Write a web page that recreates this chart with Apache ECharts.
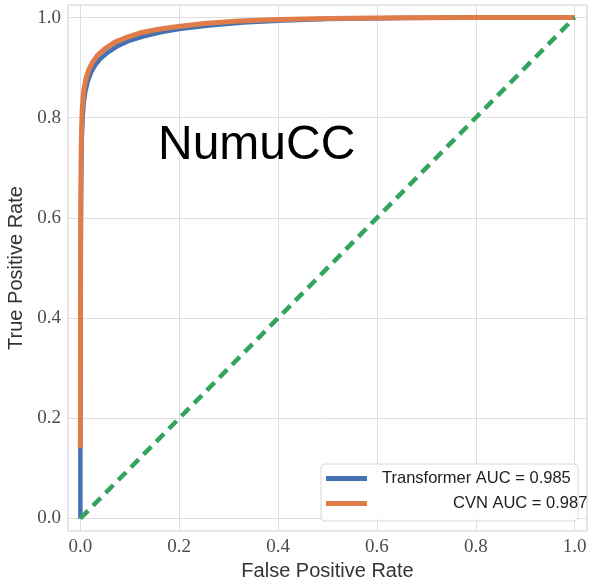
<!DOCTYPE html>
<html>
<head>
<meta charset="utf-8">
<script src="https://cdn.jsdelivr.net/npm/echarts@6/dist/echarts.min.js"></script>
<style>
  html, body { margin: 0; padding: 0; background: #fff; }
  #main { width: 590px; height: 582px; }
</style>
</head>
<body>
<div id="main"></div>
<script>
// ROC data: [false positive rate, true positive rate]
const transformerRoc = [
  [0, 0], [0, 0.14], [0.0004, 0.38], [0.0008, 0.53], [0.0013, 0.63], [0.002, 0.70],
  [0.003, 0.76], [0.005, 0.805], [0.007, 0.832], [0.01, 0.852], [0.015, 0.873],
  [0.022, 0.891], [0.03, 0.905], [0.04, 0.917], [0.055, 0.93], [0.075, 0.943],
  [0.1, 0.954], [0.13, 0.963], [0.165, 0.971], [0.2, 0.977], [0.26, 0.984],
  [0.33, 0.99], [0.41, 0.994], [0.5, 0.997], [0.65, 0.999], [0.8, 1.0], [1, 1]
];
const cvnRoc = [
  [0, 0.14], [0.0003, 0.40], [0.0006, 0.55], [0.001, 0.65], [0.0015, 0.72],
  [0.0025, 0.78], [0.004, 0.82], [0.006, 0.845], [0.008, 0.862], [0.012, 0.881],
  [0.018, 0.898], [0.025, 0.911], [0.035, 0.925], [0.05, 0.938], [0.07, 0.951],
  [0.095, 0.961], [0.12, 0.969], [0.155, 0.976], [0.19, 0.981], [0.25, 0.988],
  [0.32, 0.993], [0.4, 0.996], [0.5, 0.998], [0.65, 0.9995], [0.8, 1.0], [1, 1]
];
const chanceLine = [[0, 0], [1, 1]];
const tickValues = [0, 0.2, 0.4, 0.6, 0.8, 1.0];
const seriesNames = ['Transformer AUC = 0.985', 'CVN AUC = 0.987'];
const plotTitle = 'NumuCC';

const chart = echarts.init(document.getElementById('main'));

const tickFont = { fontFamily: 'Liberation Serif', fontSize: 19, color: '#4d4d4d' };
const nameFont = { fontFamily: 'Liberation Sans', fontSize: 20, color: '#333' };

function makeAxis(name, isX) {
  return {
    type: 'value',
    min: -0.025,
    max: 1.025,
    name: name,
    nameLocation: 'middle',
    nameGap: isX ? 25 : 35,
    nameTextStyle: nameFont,
    axisLine: { show: false },
    axisTick: { show: false, customValues: tickValues },
    axisLabel: Object.assign({
      customValues: tickValues,
      margin: 7,
      formatter: v => v.toFixed(1)
    }, tickFont),
    splitLine: { show: true, lineStyle: { color: '#dedede', width: 1 } }
  };
}

const option = {
  animation: false,
  backgroundColor: '#fff',
  grid: {
    left: 68, top: 5, width: 519, height: 526,
    outerBoundsMode: 'none',
    containLabel: false,
    show: true, borderColor: '#cfcfcf', borderWidth: 1
  },
  xAxis: makeAxis('False Positive Rate', true),
  yAxis: makeAxis('True Positive Rate', false),
  legend: {
    orient: 'vertical',
    left: 321, top: 464,
    padding: [6, 8, 8, 5],
    itemWidth: 41, itemHeight: 5, itemGap: 8,
    z: 6,
    data: seriesNames.map(n => ({ name: n, icon: 'rect' })),
    formatter: n => n.startsWith('CVN') ? '{r|' + n + '}' : '{l|' + n + '}',
    textStyle: {
      fontFamily: 'Liberation Sans', fontSize: 16.5, color: '#222', lineHeight: 17,
      padding: [0, 0, 0, 10],
      rich: {
        l: { fontFamily: 'Liberation Sans', fontSize: 16.5, color: '#222' },
        r: { fontFamily: 'Liberation Sans', fontSize: 16.5, color: '#222', padding: [0, 0, 0, 71] }
      }
    }
  },
  graphic: [
    {
      type: 'rect', z: 5,
      shape: { x: 321, y: 464, width: 257, height: 57, r: 4 },
      style: { fill: 'rgba(255,255,255,0.85)', stroke: '#d8d8d8', lineWidth: 1 }
    },
    {
      type: 'text', z: 5,
      x: 158, y: 146,
      style: {
        text: plotTitle, fill: '#000',
        font: '48px "Liberation Sans"',
        textAlign: 'left', textVerticalAlign: 'middle'
      }
    }
  ],
  series: [
    {
      name: seriesNames[0], type: 'line', data: transformerRoc,
      symbol: 'none', color: '#4572b3',
      lineStyle: { color: '#4572b3', width: 4.5 }
    },
    {
      name: seriesNames[1], type: 'line', data: cvnRoc,
      symbol: 'none', color: '#e07c4a',
      lineStyle: { color: '#e07c4a', width: 5 }
    },
    {
      name: 'chance', type: 'line', data: chanceLine,
      symbol: 'none', color: '#32a45e',
      lineStyle: { color: '#32a45e', width: 4.5, type: [11, 7] }
    }
  ]
};

chart.setOption(option);
</script>
</body>
</html>
